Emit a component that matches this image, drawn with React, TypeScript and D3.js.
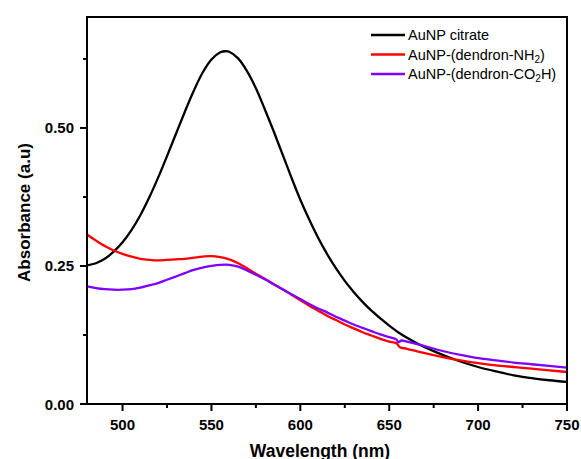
import React from "react";
import * as d3 from "d3";

const wlCitrate = [480,485,490,495,500,505,510,515,520,525,530,535,540,545,550,555,558,560,565,570,575,580,585,590,595,600,605,610,615,620,625,630,635,640,645,650,655,660,665,670,680,690,700,710,720,730,740,750];
const absCitrate = [0.251,0.255,0.263,0.276,0.293,0.315,0.342,0.374,0.410,0.449,0.489,0.529,0.567,0.600,0.624,0.637,0.639,0.638,0.626,0.603,0.572,0.534,0.494,0.452,0.410,0.370,0.334,0.301,0.272,0.246,0.223,0.203,0.185,0.169,0.155,0.142,0.130,0.120,0.111,0.103,0.089,0.077,0.067,0.059,0.052,0.047,0.043,0.040];

const wlNH2 = [480,485,490,495,500,505,510,515,520,525,530,535,540,545,550,555,560,565,570,575,580,585,590,595,600,605,610,615,620,625,630,635,640,645,650,654,656,660,670,680,690,700,710,720,730,740,750];
const absNH2 = [0.307,0.296,0.286,0.278,0.272,0.267,0.263,0.261,0.260,0.261,0.262,0.263,0.265,0.267,0.268,0.266,0.262,0.255,0.246,0.236,0.227,0.217,0.208,0.198,0.188,0.178,0.169,0.160,0.152,0.144,0.137,0.130,0.124,0.118,0.113,0.110,0.103,0.100,0.092,0.085,0.079,0.074,0.070,0.067,0.064,0.061,0.058];

const wlCO2H = [480,485,490,495,500,505,510,515,520,525,530,535,540,545,550,555,560,565,570,575,580,585,590,595,600,605,610,615,620,625,630,635,640,645,650,654,655,657,660,670,680,690,700,710,720,730,740,750];
const absCO2H = [0.213,0.210,0.208,0.207,0.207,0.208,0.211,0.215,0.219,0.225,0.231,0.237,0.243,0.247,0.250,0.252,0.252,0.249,0.242,0.234,0.226,0.217,0.208,0.199,0.190,0.181,0.173,0.166,0.158,0.151,0.144,0.138,0.132,0.126,0.121,0.117,0.112,0.115,0.113,0.105,0.096,0.089,0.083,0.079,0.075,0.072,0.069,0.066];

const xMajorTicks = [500, 550, 600, 650, 700, 750];
const xMinorTicks = [525, 575, 625, 675, 725];
const yMajorTicks = [0, 0.25, 0.5];
const yMinorTicks = [0.125, 0.375, 0.625];

const seriesNames = ["citrate", "NH2", "CO2H"];
const seriesColors = ["#000000", "#ff0000", "#8000ff"];

export default function App() {
  const W = 581, H = 459;
  const left = 87, right = 567, top = 17, bottom = 404;
  const x = d3.scaleLinear().domain([480, 750]).range([left, right]);
  const y = d3.scaleLinear().domain([0, 0.701]).range([bottom, top]);
  const line = d3.line<[number, number]>().x(d => x(d[0])).y(d => y(d[1])).curve(d3.curveCatmullRom.alpha(0.5));

  const series = [
    wlCitrate.map((w, i) => [w, absCitrate[i]] as [number, number]),
    wlNH2.map((w, i) => [w, absNH2[i]] as [number, number]),
    wlCO2H.map((w, i) => [w, absCO2H[i]] as [number, number]),
  ];

  const font = "Arial, 'Liberation Sans', sans-serif";
  const legendY = [35, 54.5, 74];

  return (
    <svg width={W} height={H} style={{ position: "absolute", left: 0, top: 0, background: "#fff" }} fontFamily={font}>
      <rect x={0} y={0} width={W} height={H} fill="#fff" />
      <defs>
        <clipPath id="plot">
          <rect x={left} y={top} width={right - left} height={bottom - top} />
        </clipPath>
      </defs>
      <g clipPath="url(#plot)">
        {series.map((s, i) => (
          <path key={seriesNames[i]} d={line(s) || ""} fill="none" stroke={seriesColors[i]} strokeWidth={2.3} strokeLinejoin="round" />
        ))}
      </g>
      <rect x={left} y={top} width={right - left} height={bottom - top} fill="none" stroke="#000" strokeWidth={2} />
      {xMajorTicks.map(t => (
        <g key={"xm" + t}>
          <line x1={x(t)} x2={x(t)} y1={bottom} y2={bottom + 7} stroke="#000" strokeWidth={2} />
          <text x={x(t)} y={430} textAnchor="middle" fontSize={15} fontWeight="bold">{t}</text>
        </g>
      ))}
      {xMinorTicks.map(t => (
        <line key={"xn" + t} x1={x(t)} x2={x(t)} y1={bottom} y2={bottom + 4} stroke="#000" strokeWidth={2} />
      ))}
      {yMajorTicks.map(t => (
        <g key={"ym" + t}>
          <line x1={left - 7} x2={left} y1={y(t)} y2={y(t)} stroke="#000" strokeWidth={2} />
          <text x={74} y={y(t) + 5.5} textAnchor="end" fontSize={15} fontWeight="bold">{t.toFixed(2)}</text>
        </g>
      ))}
      {yMinorTicks.map(t => (
        <line key={"yn" + t} x1={left - 4} x2={left} y1={y(t)} y2={y(t)} stroke="#000" strokeWidth={2} />
      ))}
      <text transform={`translate(30,${(top + bottom) / 2 + 2}) rotate(-90)`} textAnchor="middle" fontSize={17} fontWeight="bold">Absorbance (a.u)</text>
      <text x={(left + right) / 2 - 7} y={457} textAnchor="middle" fontSize={17.5} fontWeight="bold">Wavelength (nm)</text>
      {seriesNames.map((n, i) => (
        <line key={"lg" + n} x1={371} x2={405} y1={legendY[i]} y2={legendY[i]} stroke={seriesColors[i]} strokeWidth={2.3} />
      ))}
      <text x={408} y={legendY[0] + 5} fontSize={14.5}>AuNP citrate</text>
      <text x={408} y={legendY[1] + 5} fontSize={14.5}>AuNP-(dendron-NH<tspan fontSize={10} dy={3}>2</tspan><tspan dy={-3}>)</tspan></text>
      <text x={408} y={legendY[2] + 5} fontSize={14.5}>AuNP-(dendron-CO<tspan fontSize={10} dy={3}>2</tspan><tspan dy={-3}>H)</tspan></text>
    </svg>
  );
}
